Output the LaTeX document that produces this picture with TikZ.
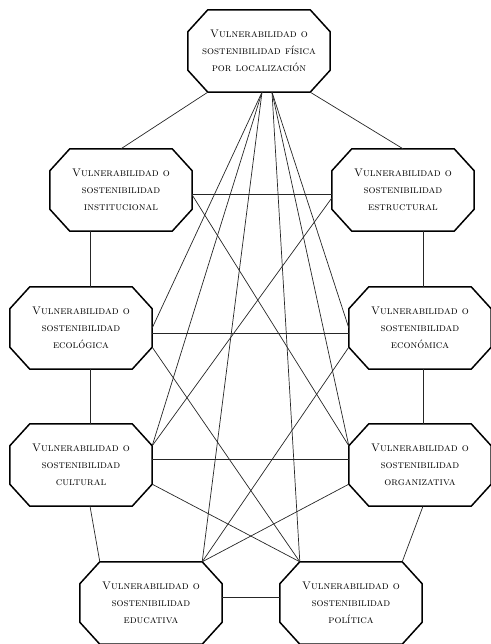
\documentclass[tikz,border=0pt]{standalone}

\begin{document}
\begin{tikzpicture}[x=1pt,y=1pt,
  main node/.style={minimum width=142pt,minimum height=82pt,inner sep=0pt,
    align=center,font=\fontsize{11}{17}\selectfont\scshape},
  every edge/.style={draw,black!85,line width=0.7pt}]
\useasboundingbox (0,0) rectangle (490,644);

\node[main node] (1) at (259,593) {Vulnerabilidad o\\sostenibilidad física\\por localización};
\node[main node] (2) at (121,454) {Vulnerabilidad o\\sostenibilidad\\institucional};
\node[main node] (3) at (403,454) {Vulnerabilidad o\\sostenibilidad\\estructural};
\node[main node] (4) at (81,316) {Vulnerabilidad o\\sostenibilidad\\ecológica};
\node[main node] (5) at (420,316) {Vulnerabilidad o\\sostenibilidad\\económica};
\node[main node] (6) at (81,179) {Vulnerabilidad o\\sostenibilidad\\cultural};
\node[main node] (7) at (420,179) {Vulnerabilidad o\\sostenibilidad\\organizativa};
\node[main node] (8) at (151,41) {Vulnerabilidad o\\sostenibilidad\\educativa};
\node[main node] (9) at (351,41) {Vulnerabilidad o\\sostenibilidad\\política};

% octagon borders
\foreach \n in {1,...,9}
  \draw[line width=1.5pt,line join=round]
    ([xshift=20]\n.north west) -- ([xshift=-20]\n.north east)
    -- ([yshift=-22]\n.north east) -- ([yshift=22]\n.south east)
    -- ([xshift=-20]\n.south east) -- ([xshift=20]\n.south west)
    -- ([yshift=22]\n.south west) -- ([yshift=-22]\n.north west) -- cycle;

% outer ring
\path
  ([xshift=20]1.south west) edge (2.north)
  ([xshift=-20]1.south east) edge (3.north)
  ([xshift=-31]2.south) edge ([xshift=9]4.north)
  ([xshift=9]4.south) edge ([xshift=9]6.north)
  ([xshift=9]6.south) edge ([xshift=20]8.north west)
  ([xshift=20]3.south) edge ([xshift=3]5.north)
  ([xshift=3]5.south) edge ([xshift=3]7.north)
  ([xshift=3]7.south) edge ([xshift=-20]9.north east)
  ([yshift=6]8.east) edge ([yshift=6]9.west);
% across
\path
  ([yshift=-4]2.east) edge ([yshift=-4]3.west)
  ([yshift=-5]4.east) edge ([yshift=-5]5.west)
  ([yshift=6]6.east) edge ([yshift=6]7.west);
% diagonals
\path
  ([yshift=-5]2.east) edge ([yshift=-22]7.north west)
  ([yshift=-8]3.west) edge ([yshift=-22]6.north east)
  ([yshift=22]4.south east) edge ([xshift=20]9.north west)
  ([yshift=22]5.south west) edge ([xshift=-20]8.north east)
  ([yshift=22]6.south east) edge ([xshift=20]9.north west)
  ([yshift=22]7.south west) edge ([xshift=-20]8.north east);
% fan from the top
\path
  ([xshift=3]1.south) edge (4.east) edge ([yshift=-22]6.north east)
    edge ([xshift=-20]8.north east)
  ([xshift=13]1.south) edge ([xshift=20]9.north west)
    edge ([yshift=-22]7.north west) edge (5.west);
\end{tikzpicture}
\end{document}
